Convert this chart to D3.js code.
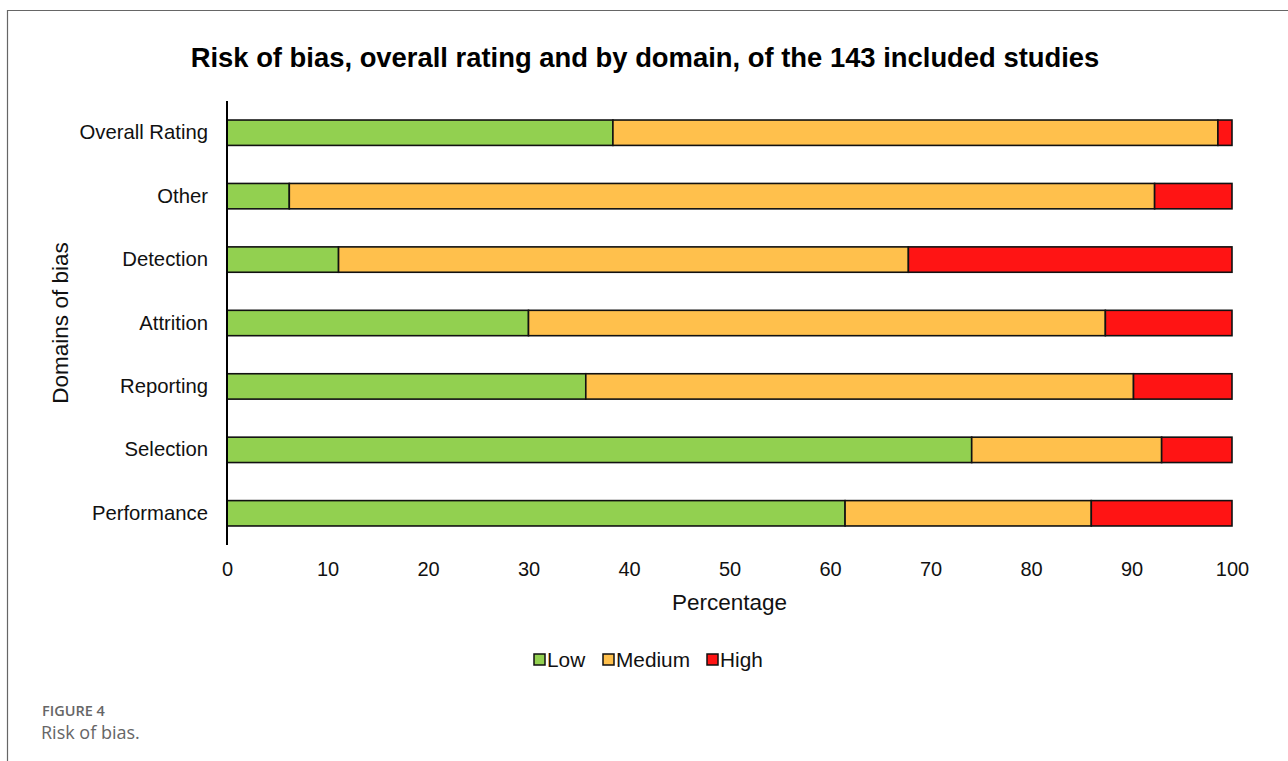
<!DOCTYPE html>
<html>
<head>
<meta charset="utf-8">
<script src="https://cdn.jsdelivr.net/npm/d3@7"></script>
<style>
  body { margin: 0; background: #fff; }
  svg { display: block; }
</style>
</head>
<body>
<div id="chart"></div>
<script>
// domains of bias, top to bottom
const domains = ["Overall Rating", "Other", "Detection", "Attrition", "Reporting", "Selection", "Performance"];
const levels = ["Low", "Medium", "High"];
// percentages
const lowPct    = [38.4, 6.2, 11.1, 30.0, 35.7, 74.1, 61.5];
const mediumPct = [60.2, 86.1, 56.7, 57.4, 54.5, 18.9, 24.5];
const highPct   = [1.4, 7.7, 32.2, 12.6, 9.8, 7.0, 14.0];
const xTicks = [0, 10, 20, 30, 40, 50, 60, 70, 80, 90, 100];

const width = 1288, height = 761;
const colors = { Low: "#92d050", Medium: "#ffc04c", High: "#ff1414" };

const svg = d3.select("#chart")
  .append("svg")
  .attr("width", width)
  .attr("height", height);

// outer frame (top + left only, the rest is cropped)
svg.append("path")
  .attr("d", `M1288,10.5 H7.5 V761`)
  .attr("fill", "none")
  .attr("stroke", "#666")
  .attr("stroke-width", 1.2);

const font = "'Liberation Sans', Arial, Helvetica, sans-serif";

let xScale = d3.scaleLinear()
  .domain([0, 100])
  .range([227, 1232]);

let yScale = d3.scaleBand()
  .domain(domains)
  .range([101, 545])
  .paddingInner(0.6)
  .paddingOuter(0.3);

const rows = domains.map((d, i) => ({ domain: d, Low: lowPct[i], Medium: mediumPct[i], High: highPct[i] }));
const stacked = d3.stack().keys(levels)(rows);

svg.append("text")
  .attr("x", 645)
  .attr("y", 67)
  .attr("text-anchor", "middle")
  .attr("font-family", font)
  .attr("font-weight", "bold")
  .attr("font-size", "27.4px")
  .attr("fill", "#000")
  .text("Risk of bias, overall rating and by domain, of the 143 included studies");

// bars
svg.append("g")
  .selectAll("g")
  .data(stacked)
  .enter()
  .append("g")
    .attr("fill", d => colors[d.key])
  .selectAll("rect")
  .data(d => d)
  .enter()
  .append("rect")
    .attr("x", d => xScale(d[0]))
    .attr("y", d => yScale(d.data.domain))
    .attr("width", d => xScale(d[1]) - xScale(d[0]))
    .attr("height", yScale.bandwidth())
    .attr("stroke", "#111")
    .attr("stroke-width", 1.6);

// y axis: line only, labels at left
const yAxis = svg.append("g")
  .attr("transform", `translate(${xScale(0)},0)`)
  .call(d3.axisLeft(yScale).tickSize(0).tickPadding(19));
yAxis.select(".domain")
  .attr("d", `M0,101V545`)
  .attr("stroke", "#000")
  .attr("stroke-width", 2);
yAxis.selectAll("text")
  .attr("font-family", font)
  .attr("font-size", "20.3px")
  .attr("fill", "#111");

// x axis: tick labels only
const xAxis = svg.append("g")
  .attr("transform", `translate(0,545)`)
  .call(d3.axisBottom(xScale).tickValues(xTicks).tickSize(0).tickPadding(17));
xAxis.select(".domain").remove();
xAxis.selectAll("text")
  .attr("font-family", font)
  .attr("font-size", "20px")
  .attr("fill", "#111");

svg.append("text")
  .attr("x", (xScale(0) + xScale(100)) / 2)
  .attr("y", 610)
  .attr("text-anchor", "middle")
  .attr("font-family", font)
  .attr("font-size", "22.5px")
  .attr("fill", "#111")
  .text("Percentage");

svg.append("text")
  .attr("transform", "translate(68,323) rotate(-90)")
  .attr("text-anchor", "middle")
  .attr("font-family", font)
  .attr("font-size", "22.5px")
  .attr("fill", "#111")
  .text("Domains of bias");

// legend
const legendX = [534, 603, 707];
const legend = svg.append("g");
levels.forEach((k, i) => {
  legend.append("rect")
    .attr("x", legendX[i])
    .attr("y", 654)
    .attr("width", 11)
    .attr("height", 11)
    .attr("fill", colors[k])
    .attr("stroke", "#111")
    .attr("stroke-width", 1.5);
  legend.append("text")
    .attr("x", legendX[i] + 13)
    .attr("y", 667)
    .attr("font-family", font)
    .attr("font-size", "20.8px")
    .attr("fill", "#111")
    .text(k);
});

// caption
svg.append("text")
  .attr("x", 42)
  .attr("y", 716)
  .attr("font-family", "'Open Sans', 'Noto Sans', sans-serif")
  .attr("font-weight", "600")
  .attr("font-size", "14.5px")
  .attr("fill", "#666")
  .text("FIGURE 4");

svg.append("text")
  .attr("x", 41)
  .attr("y", 739)
  .attr("font-family", "'Open Sans', 'Noto Sans', sans-serif")
  .attr("font-size", "18px")
  .attr("fill", "#666")
  .text("Risk of bias.");
</script>
</body>
</html>
